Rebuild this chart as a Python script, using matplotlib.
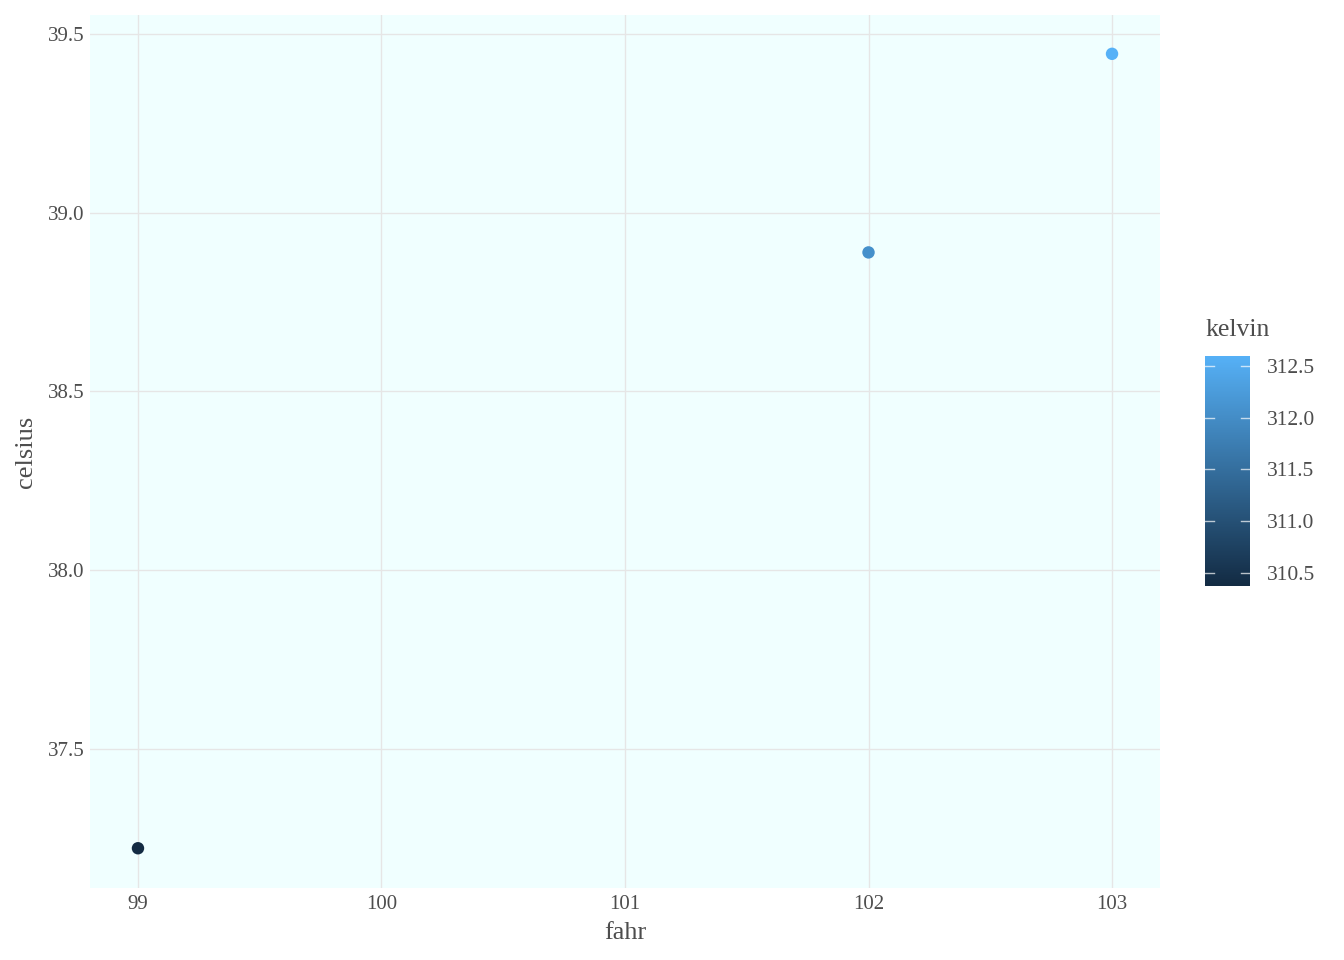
import numpy as np
import matplotlib.pyplot as plt
from matplotlib.colors import LinearSegmentedColormap, Normalize

plt.rcParams['font.family'] = ['Liberation Serif', 'DejaVu Serif']

fahr = [99, 102, 103]
celsius = [37.2222, 38.8889, 39.4444]
kelvin = [310.3722, 312.0389, 312.5944]

x_ticks = [99, 100, 101, 102, 103]
y_ticks = [37.5, 38.0, 38.5, 39.0, 39.5]
k_ticks = [310.5, 311.0, 311.5, 312.0, 312.5]

text_col = '#4D4D4D'
grid_col = '#E6E6E6'

cmap = LinearSegmentedColormap.from_list('gg', ['#132B43', '#56B1F7'])
norm = Normalize(vmin=min(kelvin), vmax=max(kelvin))

fig = plt.figure(figsize=(13.44, 9.6), dpi=100)
ax = fig.add_axes([90 / 1344, 72 / 960, 1070 / 1344, 873 / 960])
ax.set_facecolor('#F0FFFF')

ax.scatter(fahr, celsius, c=kelvin, cmap=cmap, norm=norm, s=80, zorder=3, linewidths=0)

ax.set_xlim(98.803, 103.197)
ax.set_ylim(37.111, 39.553)
ax.set_xticks(x_ticks)
ax.set_xticklabels([str(v) for v in x_ticks])
ax.set_yticks(y_ticks)
ax.set_yticklabels([f'{v:.1f}' for v in y_ticks])
ax.grid(True, color=grid_col, linewidth=1.0)
ax.set_axisbelow(True)
for s in ax.spines.values():
    s.set_visible(False)
ax.tick_params(axis='y', length=0, labelsize=15, labelcolor=text_col, pad=4)
ax.tick_params(axis='x', length=0, labelsize=15, labelcolor=text_col, pad=5)
ax.set_xlabel('fahr', fontsize=19, color=text_col, labelpad=6)
ax.set_ylabel('celsius', fontsize=19, color=text_col, labelpad=8)

# colorbar
cax = fig.add_axes([1205 / 1344, 374 / 960, 45 / 1344, 230 / 960])
grad = np.linspace(min(kelvin), max(kelvin), 256).reshape(-1, 1)
cax.imshow(grad, aspect='auto', cmap=cmap, norm=norm, origin='lower',
           extent=[0, 1, min(kelvin), max(kelvin)])
cax.set_xlim(0, 1)
cax.set_ylim(min(kelvin), max(kelvin))
cax.set_xticks([])
for s in cax.spines.values():
    s.set_visible(False)
for k in k_ticks:
    cax.plot([0, 0.2], [k, k], color='white', lw=1, alpha=0.7)
    cax.plot([0.8, 1.0], [k, k], color='white', lw=1, alpha=0.7)
cax.yaxis.tick_right()
cax.set_yticks(k_ticks)
cax.set_yticklabels([f'{v:.1f}' for v in k_ticks])
cax.tick_params(length=0, labelsize=15.5, labelcolor=text_col, pad=12)
fig.text(1205 / 1344, 1 - 330 / 960, 'kelvin', fontsize=18.5, color=text_col,
         ha='left', va='center')

fig.savefig('out.png', dpi=100)
